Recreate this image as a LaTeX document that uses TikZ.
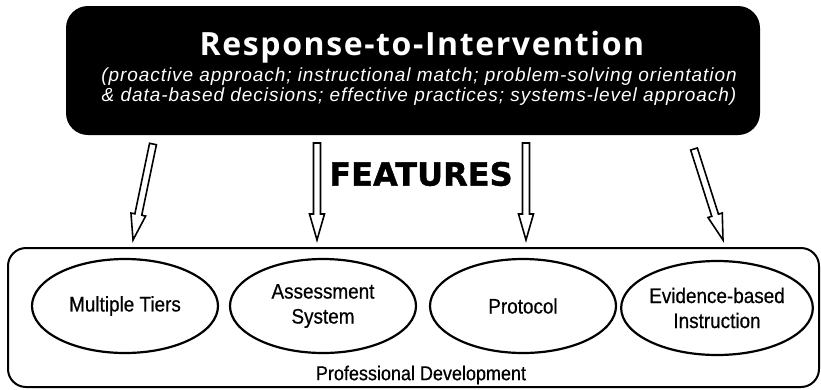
\documentclass[tikz,border=0pt]{standalone}
\usepackage{fontspec}
\setmainfont{Liberation Sans}
\newfontfamily\headfont{Open Sans}[LetterSpace=5]
\newfontfamily\aimsfont{Liberation Sans}[LetterSpace=5]
\newfontfamily\narrowfont{Liberation Sans}[FakeStretch=0.9,FakeBold=0.6]
\newfontfamily\heavyfont{DejaVu Sans}[FakeBold=1.2]
\usetikzlibrary{shapes.geometric,calc}

% hollow block arrow from #1 to #2
\newcommand{\blockarrow}[2]{%
  \path ($(#2)!26pt!(#1)$) coordinate (hb);
  \draw[arrowline] ($(#1)!3.5pt!90:(#2)$) -- ($(hb)!3.5pt!90:(#2)$)
    -- ($(hb)!7.5pt!90:(#2)$) -- (#2) -- ($(hb)!7.5pt!-90:(#2)$)
    -- ($(hb)!3.5pt!-90:(#2)$) -- ($(#1)!3.5pt!-90:(#2)$) -- cycle;}

\begin{document}
\begin{tikzpicture}[x=1pt,y=-1pt,
    titlebox/.style={fill=black,rounded corners=22pt,minimum width=694pt,
      minimum height=129pt,inner sep=0pt},
    pdbox/.style={draw,line width=2pt,rounded corners=18pt,minimum width=811pt,
      minimum height=139pt,inner sep=0pt},
    feature/.style={draw,ellipse,line width=2.2pt,minimum width=186pt,
      minimum height=94pt,inner sep=0pt,align=center,
      font=\narrowfont\fontsize{21}{25}\selectfont},
    arrowline/.style={draw,line width=1.6pt,fill=white,line join=miter}]
  \useasboundingbox (0,0) rectangle (821,389);

  % top box
  \node[titlebox] (rti) at (413,70.5) {};
  \node[text=white,font=\headfont\bfseries\fontsize{32}{36}\selectfont]
    (title) at (422,47) {Response-to-Intervention};
  \node[text=white,align=center,font=\aimsfont\itshape\fontsize{19}{20}\selectfont]
    (aims) at (419,87) {(proactive approach; instructional match; problem-solving orientation\\
    \& data-based decisions; effective practices; systems-level approach)};

  \node[font=\heavyfont\bfseries\fontsize{32}{36}\selectfont] (feat) at (421,174) {FEATURES};

  % arrows
  \coordinate (a1) at (153,144); \coordinate (b1) at (133,240);
  \coordinate (a2) at (317,143); \coordinate (b2) at (317,240);
  \coordinate (a3) at (526,143); \coordinate (b3) at (526,240);
  \coordinate (a4) at (694,149); \coordinate (b4) at (723,240);
  \foreach \i in {1,...,4}
    \blockarrow{a\i}{b\i};

  % bottom box
  \node[pdbox] (pd) at (413.5,317.5) {};
  \node[feature] (tiers) at (125,306) {Multiple Tiers};
  \node[feature] (assess) at (323,306) {Assessment\\System};
  \node[feature] (proto) at (523,306) {Protocol};
  \node[feature] (ebi) at (717,308) {Evidence-based\\Instruction};
  \node[font=\narrowfont\fontsize{20}{24}\selectfont] (pdlabel) at (421,375) {Professional Development};
\end{tikzpicture}
\end{document}
